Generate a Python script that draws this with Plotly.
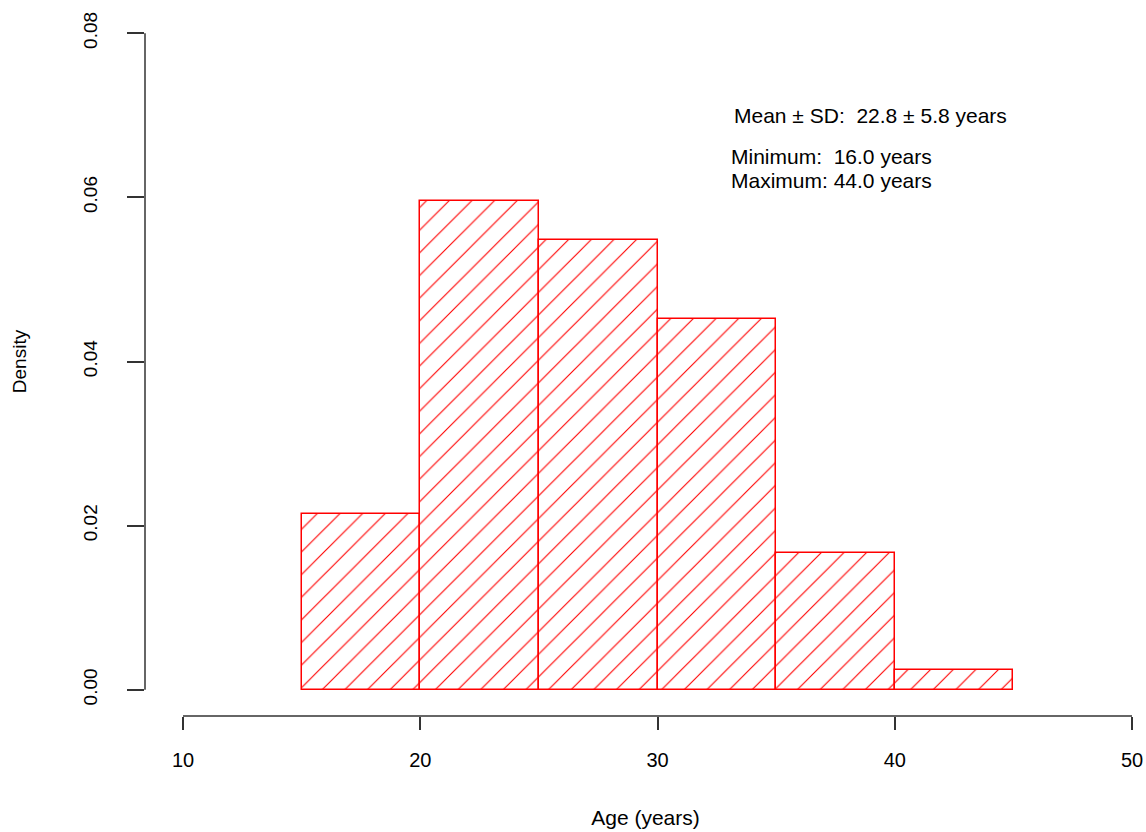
import plotly.graph_objects as go

# Data
bin_edges = [15, 20, 25, 30, 35, 40, 45]
densities = [0.0214, 0.0595, 0.0548, 0.0452, 0.0167, 0.0024]
x_ticks = [10, 20, 30, 40, 50]
y_ticks = [0.00, 0.02, 0.04, 0.06, 0.08]
stat_lines = ["Mean \u00b1 SD:  22.8 \u00b1 5.8 years", "Minimum:  16.0 years", "Maximum: 44.0 years"]
stat_x = [33.15, 33.0, 33.0]
stat_y = [0.0700, 0.0650, 0.0620]

centers = [(a + b) / 2 for a, b in zip(bin_edges[:-1], bin_edges[1:])]
widths = [b - a for a, b in zip(bin_edges[:-1], bin_edges[1:])]

FONT = "Liberation Sans, Arial, sans-serif"

fig = go.Figure()
fig.add_trace(go.Bar(
    x=centers, y=densities, width=widths,
    marker=dict(
        color="white",
        line=dict(color="#ff0000", width=1.5),
        pattern=dict(shape="/", fgcolor="#ff0000", fgopacity=1, bgcolor="white", size=16,
                     solidity=0.07, fillmode="overlay"),
    ),
    showlegend=False, hoverinfo="skip",
))

for t, xx, yy in zip(stat_lines, stat_x, stat_y):
    fig.add_annotation(x=xx, y=yy, text=t, showarrow=False, xanchor="left", yanchor="middle",
                       font=dict(family=FONT, size=21, color="black"))

# R-style detached axis lines
fig.add_shape(type="line", xref="x", yref="paper", x0=x_ticks[0], x1=x_ticks[-1], y0=0, y1=0,
              line=dict(color="#333333", width=1.5))
fig.add_shape(type="line", xref="paper", yref="y", x0=0, x1=0, y0=y_ticks[0], y1=y_ticks[-1],
              line=dict(color="#333333", width=1.5))

fig.update_layout(
    width=1146, height=832,
    margin=dict(l=145, r=0, t=7, b=116),
    plot_bgcolor="white", paper_bgcolor="white",
    font=dict(family=FONT, size=21, color="black"),
    bargap=0,
    xaxis=dict(range=[8.398, 50.59], tickvals=x_ticks, ticks="outside", ticklen=13, tickwidth=1.5,
               tickcolor="#333333", showline=False, showgrid=False, zeroline=False,
               ticklabelstandoff=13, tickfont=dict(size=20),
               title=dict(text="Age (years)", standoff=40, font=dict(size=21))),
    yaxis=dict(range=[-0.0032, 0.0832], tickvals=y_ticks, tickformat=".2f", ticks="outside", ticklen=17,
               tickwidth=1.5, tickcolor="#333333", tickangle=-90, showline=False, showgrid=False,
               zeroline=False, ticklabelstandoff=22, tickfont=dict(size=19),
               title=dict(text="Density", standoff=48, font=dict(size=19))),
)

fig.write_html("out.html")
